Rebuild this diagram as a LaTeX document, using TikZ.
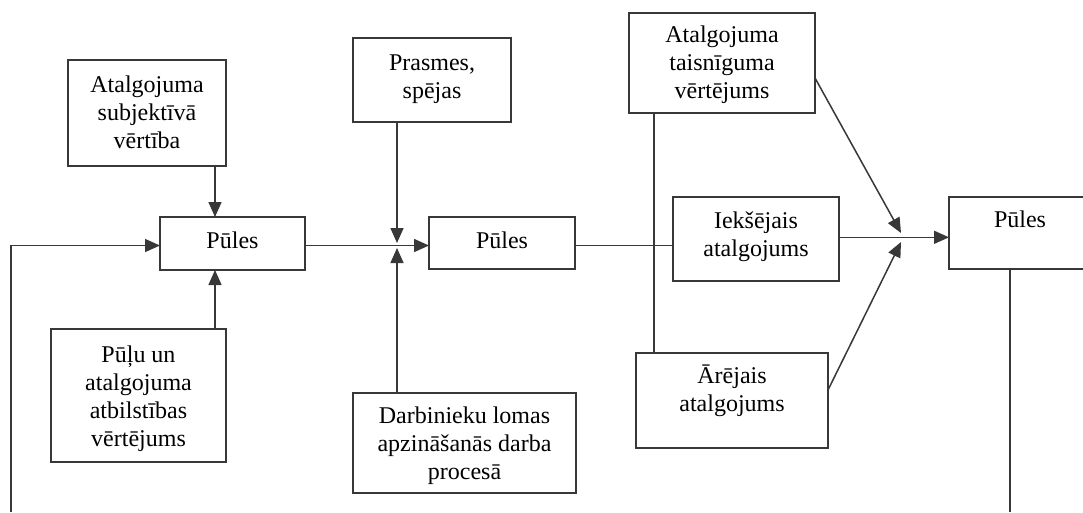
\documentclass[tikz,border=0pt]{standalone}
\usepackage{fontspec}
\setmainfont{Liberation Serif}
\usetikzlibrary{arrows.meta}
\tikzset{
  box/.style={draw=black!78, line width=1.6pt, inner sep=0pt, outer sep=0pt, rectangle},
  txt/.style={anchor=north, inner sep=0pt, outer sep=0pt, align=center, text=black,
              font=\fontsize{24}{28}\selectfont},
  conn/.style={draw=black!78, line width=1.5pt},
  arr/.style={conn, -{Triangle[length=15pt,width=13pt]}}
}
\newcommand\boxat[5]{\node[box,minimum width={#4-#2},minimum height={#5-#3}] (#1) at ({(#2+#4)/2},{(#3+#5)/2}) {};}
\newcommand\st{\rule{0pt}{20pt}}
\begin{document}
\begin{tikzpicture}[x=1pt,y=-1pt]
\useasboundingbox (0,0) rectangle (1083,512);
\fill[white] (0,0) rectangle (1083,512);

% boxes
\boxat{A}{68}{60}{226}{166}
\boxat{P1}{160}{217}{305}{270}
\boxat{B}{51}{329}{226}{462}
\boxat{Pr}{353}{38}{511}{122}
\boxat{P2}{429}{217}{575}{269}
\boxat{D}{353}{393}{576}{493}
\boxat{T}{629}{13}{815}{113}
\boxat{I}{673}{197}{839}{281}
\boxat{Ar}{636}{353}{828}{448}
\boxat{P3}{949}{197}{1091}{269}

% texts (top = first baseline - 20)
\node[txt] (tA)  at (A.center  |- 0,72)  {\st Atalgojuma\\subjektīvā\\vērtība};
\node[txt] (tP1) at (P1.center |- 0,228) {\st Pūles};
\node[txt] (tB)  at (B.center  |- 0,342) {\st Pūļu un\\atalgojuma\\atbilstības\\vērtējums};
\node[txt] (tPr) at (Pr.center |- 0,50)  {\st Prasmes,\\spējas};
\node[txt] (tP2) at (P2.center |- 0,228) {\st Pūles};
\node[txt] (tD)  at (D.center  |- 0,403) {\st Darbinieku lomas\\apzināšanās darba\\procesā};
\node[txt] (tT)  at (T.center  |- 0,22)  {\st Atalgojuma\\taisnīguma\\vērtējums};
\node[txt] (tI)  at (I.center  |- 0,208) {\st Iekšējais\\atalgojums};
\node[txt] (tAr) at (Ar.center |- 0,363) {\st Ārējais\\atalgojums};
\node[txt] (tP3) at (P3.center |- 0,207) {\st Pūles};

% helper coordinates
\coordinate (c1) at (215,0);
\coordinate (j1) at (397,245.5);
\coordinate (j1u) at (397,243);
\coordinate (j1d) at (397,248);
\coordinate (fb) at (11,512);
\coordinate (v2) at (654,0);
\coordinate (j2) at (901,237.3);
\coordinate (j2u) at (901,233);
\coordinate (j2d) at (901,242);
\coordinate (tTo) at (815,78);
\coordinate (tAo) at (828,390);
\coordinate (c3) at (1010,0);
\coordinate (end3) at (1010,512);

% connectors
\draw[arr] (A.south -| c1) -- (P1.north -| c1);
\draw[arr] (B.north -| c1) -- (P1.south -| c1);
\draw[arr] (fb) |- (P1.west |- j1);
\draw[arr] (P1.east |- j1) -- (P2.west |- j1);
\draw[arr] (Pr.south -| j1) -- (j1u);
\draw[arr] (D.north -| j1) -- (j1d);
\draw[conn] (P2.east |- j1) -- (I.west |- j1);
\draw[conn] (T.south -| v2) -- (Ar.north -| v2);
\draw[arr] (I.east |- j2) -- (P3.west |- j2);
\draw[arr] (T.east |- tTo) -- (j2u);
\draw[arr] (Ar.east |- tAo) -- (j2d);
\draw[conn] (P3.south -| c3) -- (end3);
\end{tikzpicture}
\end{document}
